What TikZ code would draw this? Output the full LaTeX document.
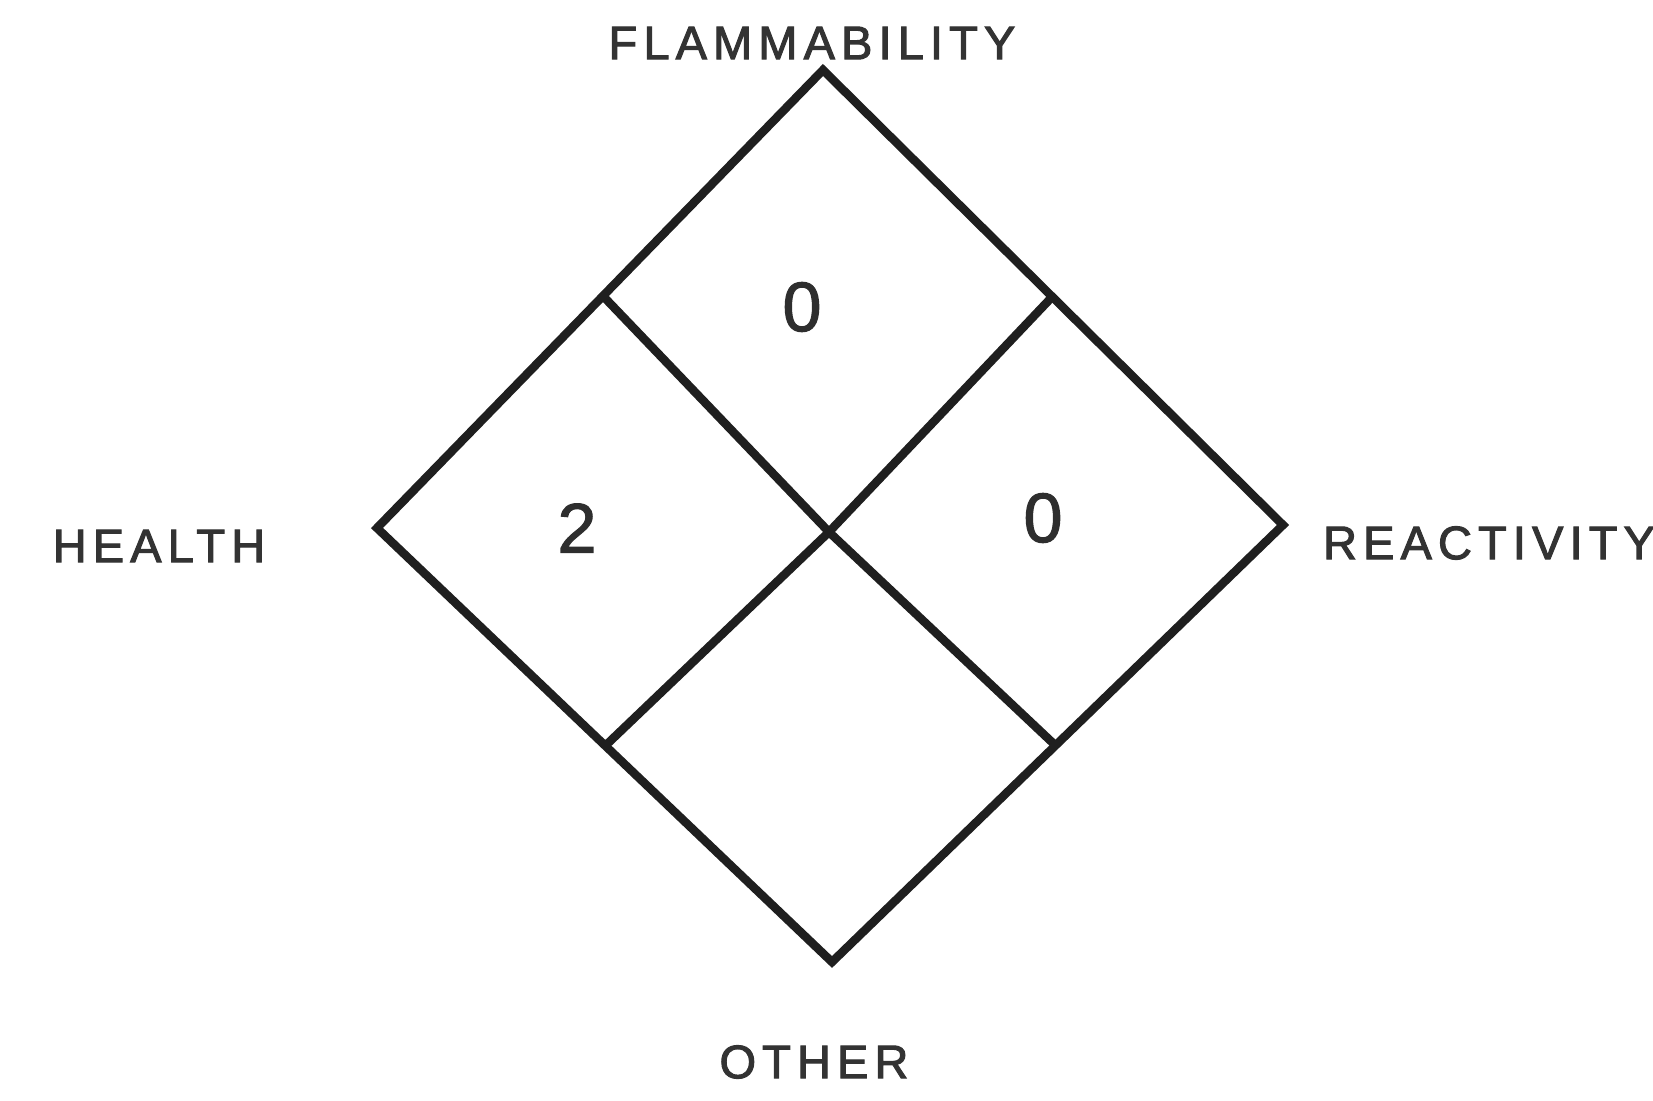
\documentclass[tikz,border=0pt]{standalone}
\usepackage{fontspec}
\setmainfont{Liberation Sans}
\newfontfamily\labfont[LetterSpace=13,FakeBold=2.2]{Liberation Sans}
\newfontfamily\numfont[FakeBold=1.6]{Liberation Sans}
\begin{document}
\begin{tikzpicture}[x=1pt,y=-1pt,
  edge/.style={line width=8.5pt, draw=black!88},
  lab/.style={inner sep=0pt, font=\labfont\fontsize{47}{50}\selectfont, text=black!80},
  num/.style={inner sep=0pt, font=\numfont\fontsize{70}{80}\selectfont, text=black!82}]
\useasboundingbox (0,0) rectangle (1653,1100);
\coordinate (T) at (823,70);
\coordinate (L) at (377,528);
\coordinate (R) at (1283,525);
\coordinate (B) at (832,962);
\coordinate (C) at (829,532);
\coordinate (UL) at (603,296);
\coordinate (UR) at (1052,297);
\coordinate (LL) at (604,747);
\coordinate (LR) at (1055,745);
\draw[edge] (T) -- (R) -- (B) -- (L) -- cycle;
\draw[edge] (UL) -- (C) -- (LR);
\draw[edge] (UR) -- (C) -- (LL);
\node[lab] (flam) at (812,43) {FLAMMABILITY};
\node[lab] (health) at (159,546) {HEALTH};
\node[lab] (react) at (1489,543) {REACTIVITY};
\node[lab] (other) at (814,1062) {OTHER};
\node[num] (nf) at (802,307) {0};
\node[num] (nh) at (577,528) {2};
\node[num] (nr) at (1043,518) {0};
\end{tikzpicture}
\end{document}
